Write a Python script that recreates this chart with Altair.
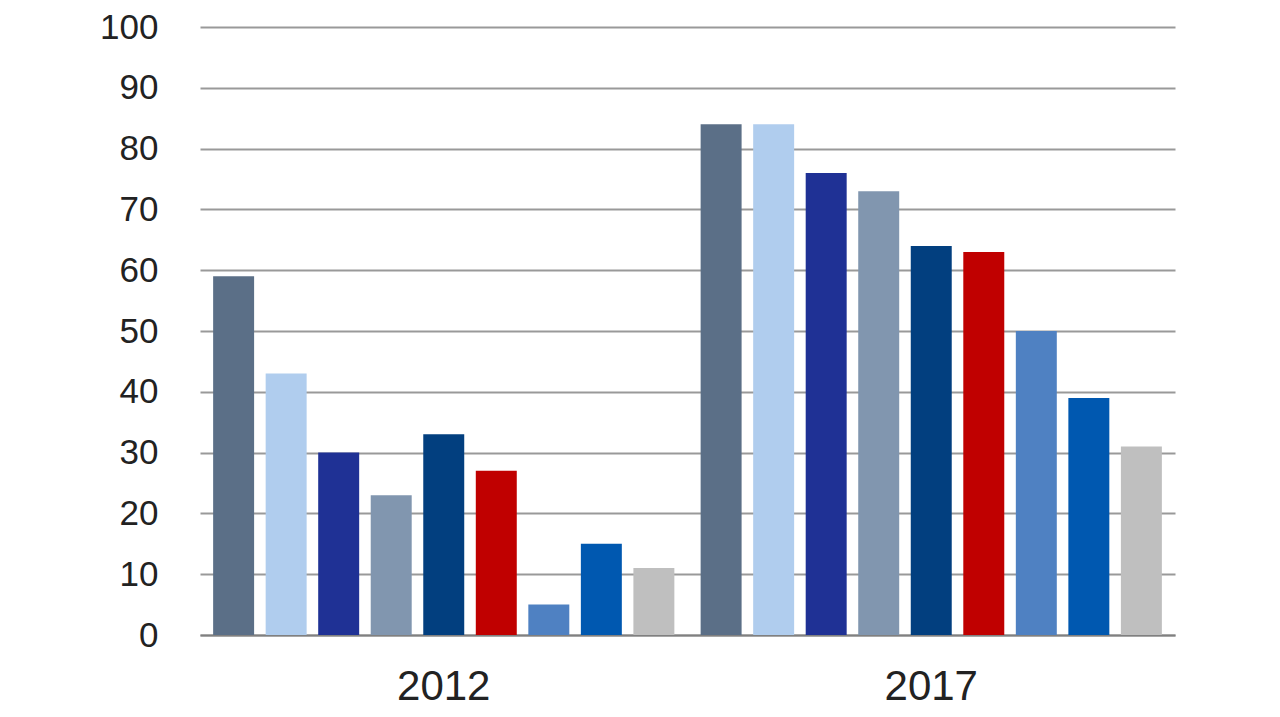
import altair as alt
import pandas as pd

years = ["2012", "2017"]
series = ["S1", "S2", "S3", "S4", "S5", "S6", "S7", "S8", "S9"]
values_2012 = [59, 43, 30, 23, 33, 27, 5, 15, 11]
values_2017 = [84, 84, 76, 73, 64, 63, 50, 39, 31]
colors = ["#5b6f87", "#b0cdee", "#1f3195", "#8196af", "#023f7f",
          "#c00000", "#4f81c2", "#0058b0", "#bfbfbf"]

rows = []
for y, vals in zip(years, [values_2012, values_2017]):
    for s, v in zip(series, vals):
        rows.append({"year": y, "series": s, "value": v})
df = pd.DataFrame(rows)

chart = alt.Chart(df).mark_bar().encode(
    x=alt.X("year:N", sort=years, title=None,
            scale=alt.Scale(paddingInner=0, paddingOuter=0),
            axis=alt.Axis(labelAngle=0, labelFontSize=42, labelFont="Liberation Sans",
                          labelColor="#222222", labelPadding=31, ticks=False,
                          grid=False, domainColor="#808080", domainWidth=2)),
    xOffset=alt.XOffset("series:N", sort=series,
                        scale=alt.Scale(paddingInner=0.22, paddingOuter=0.25)),
    y=alt.Y("value:Q", title=None,
            scale=alt.Scale(domain=[0, 100], nice=False),
            axis=alt.Axis(values=list(range(0, 101, 10)), labelFontSize=35,
                          labelFont="Liberation Sans", labelColor="#222222",
                          labelPadding=42, ticks=False, domain=False,
                          gridColor="#999999", gridWidth=2)),
    color=alt.Color("series:N", sort=series,
                    scale=alt.Scale(domain=series, range=colors), legend=None),
).properties(
    width=975, height=608,
    background="white",
    autosize=alt.AutoSizeParams(type="none"),
    padding={"left": 192, "top": 19, "right": 97, "bottom": 82},
).configure_view(stroke=None)

chart.save("out.html", embed_options={"renderer": "svg", "actions": False})
